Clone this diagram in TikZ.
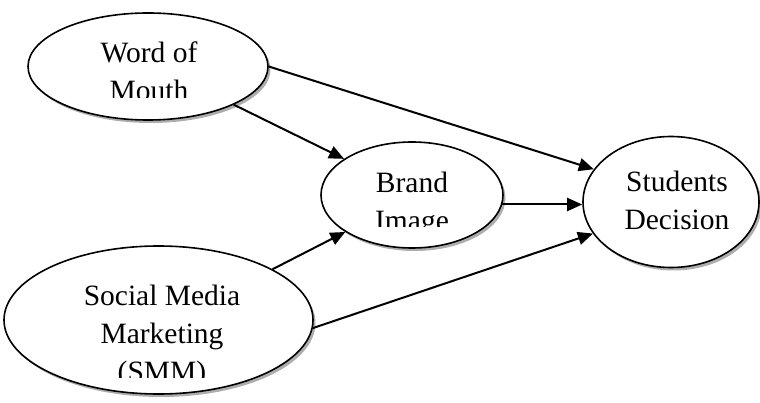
\documentclass[tikz,border=0pt]{standalone}
\usepackage{fontspec}
\setmainfont{Liberation Serif}
\usetikzlibrary{shapes.geometric,shadows,arrows.meta}
\begin{document}
\begin{tikzpicture}[x=1pt,y=-1pt,
  ell/.style={ellipse,draw=black,line width=1.6pt,fill=white,inner sep=0pt,
    drop shadow={shadow xshift=2.5pt,shadow yshift=-3pt,fill=black!40,opacity=0.8}},
  lbl/.style={align=center,anchor=base,inner sep=0pt,font=\fontsize{29.5}{38}\selectfont},
  arr/.style={line width=2pt,-{Triangle[length=15pt,width=13pt]}}]
\useasboundingbox (0,0) rectangle (760,403);
\node[ell,minimum width=240pt,minimum height=107pt] (wom) at (148,66.5) {};
\node[ell,minimum width=182pt,minimum height=106pt] (bi) at (412,195) {};
\node[ell,minimum width=176pt,minimum height=131pt] (sd) at (671,202) {};
\node[ell,minimum width=309pt,minimum height=148pt] (smm) at (158.5,320) {};
\begin{scope}
\clip (0,0) rectangle (300,98);
\node[lbl] (womt) at (149,101) {Word of\\Mouth};
\end{scope}
\begin{scope}
\clip (320,130) rectangle (505,227);
\node[lbl] (bit) at (412,231) {Brand\\Image};
\end{scope}
\node[lbl] (sdt) at (677,230) {Students\\Decision};
\begin{scope}
\clip (0,240) rectangle (320,377);
\node[lbl] (smmt) at (162,381) {Social Media\\Marketing\\(SMM)};
\end{scope}
\draw[arr] (wom.0) -- (sd.157);
\draw[arr] (wom.-24) -- (bi.152);
\draw[arr] (smm.24) -- (bi.209);
\draw[arr] (smm.-3) -- (sd.202);
\draw[arr] (bi.-6) -- (bi.-6 -| sd.west);
\end{tikzpicture}
\end{document}
